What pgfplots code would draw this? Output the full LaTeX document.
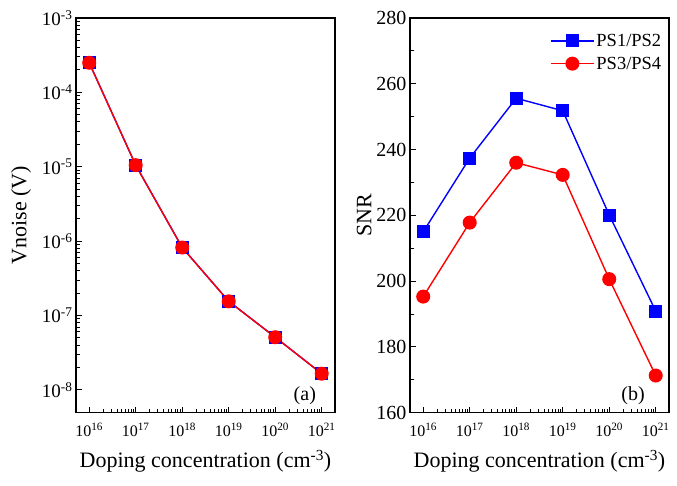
\documentclass[border=0pt]{standalone}
\usepackage{fontspec}
\setmainfont{Liberation Serif}
\usepackage{pgfplots}
\pgfplotsset{compat=1.18}
\definecolor{pblue}{RGB}{0,0,255}
\definecolor{pred}{RGB}{255,0,0}
\pgfplotsset{
  myaxis/.style={
    scale only axis,
    width=259pt, height=394.7pt,
    xmin=5.2e15, xmax=1.93e21,
    xtick={1e16,1e17,1e18,1e19,1e20,1e21},
    xticklabels={10\textsuperscript{16},10\textsuperscript{17},10\textsuperscript{18},10\textsuperscript{19},10\textsuperscript{20},10\textsuperscript{21}},
    xtick pos=bottom, ytick pos=left,
    tick align=inside,
    major tick length=6pt, minor tick length=3.5pt,
    axis line style={line width=1.3pt},
    every tick/.style={line width=1pt, black},
    x tick label style={font=\fontsize{16}{18}\selectfont, yshift=-7pt},
    y tick label style={font=\fontsize{20}{22}\selectfont},
    label style={font=\fontsize{22}{24}\selectfont},
    xlabel={Doping concentration (cm\textsuperscript{-3})},
    xlabel style={yshift=-6pt},
    /pgf/number format/assume math mode=true,
    every axis plot/.append style={line width=1.4pt},
  }
}
\begin{document}
\begin{tikzpicture}
\begin{axis}[xmode=log, ymode=log, myaxis, at={(0pt,0pt)}, anchor=south west,
  ymin=4.93e-9, ymax=1e-3,
  ytick={1e-8,1e-7,1e-6,1e-5,1e-4,1e-3},
  yticklabels={10\textsuperscript{-8},10\textsuperscript{-7},10\textsuperscript{-6},10\textsuperscript{-5},10\textsuperscript{-4},10\textsuperscript{-3}},
  y tick label style={font=\fontsize{19}{21}\selectfont},
  ylabel={Vnoise (V)},
  ylabel style={yshift=4pt},
]
\addplot[pblue, mark=square*, mark size=5.8pt, mark options={solid}] coordinates {
 (1e16,2.5e-4) (1e17,1.05e-5) (1e18,8.2e-7) (1e19,1.55e-7) (1e20,5.1e-8) (1e21,1.65e-8)};
\addplot[pred, mark=*, mark size=6.3pt, mark options={solid}] coordinates {
 (1e16,2.5e-4) (1e17,1.05e-5) (1e18,8.2e-7) (1e19,1.55e-7) (1e20,5.1e-8) (1e21,1.65e-8)};
\node[font=\fontsize{20}{22}\selectfont, anchor=south east] at (rel axis cs:0.94,0.01) {(a)};
\end{axis}
\begin{axis}[xmode=log, myaxis, at={(334pt,0pt)}, anchor=south west,
  ymin=160, ymax=280, ytick={160,180,...,280}, minor y tick num=1,
  ylabel={SNR},
  ylabel style={yshift=-2pt},
  legend style={draw=none, fill=none, at={(0.99,0.97)}, anchor=north east,
    font=\fontsize{18.5}{22}\selectfont, row sep=5pt},
  legend cell align=left,
  legend image code/.code={\draw[mark repeat=2,mark phase=2] plot coordinates {(0cm,0cm) (0.75cm,0cm) (1.5cm,0cm)};},
]
\addplot[pblue, mark=square*, mark size=5.8pt, mark options={solid}] coordinates {
 (1e16,215.0) (1e17,237.4) (1e18,255.6) (1e19,251.8) (1e20,220.1) (1e21,190.9)};
\addlegendentry{PS1/PS2}
\addplot[pred, mark=*, mark size=6.3pt, mark options={solid}] coordinates {
 (1e16,195.3) (1e17,217.8) (1e18,236.0) (1e19,232.3) (1e20,200.6) (1e21,171.3)};
\addlegendentry{PS3/PS4}
\node[font=\fontsize{20}{22}\selectfont, anchor=south east] at (rel axis cs:0.92,0.01) {(b)};
\end{axis}
\pgfresetboundingbox
\path (-76pt,-73.3pt) rectangle (601pt,412.7pt);
\end{tikzpicture}
\end{document}
